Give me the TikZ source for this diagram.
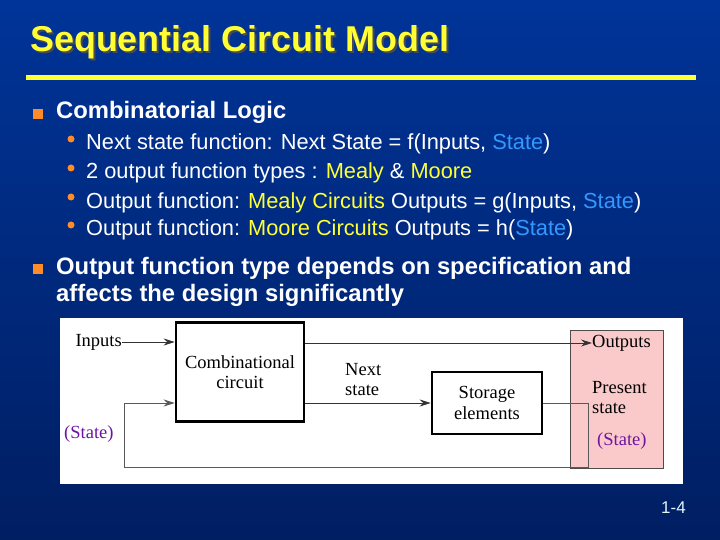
\documentclass[tikz,border=0pt]{standalone}
\usepackage{fontspec}
\setmainfont{Liberation Sans}
\newfontfamily\diagfont{Liberation Serif}
\usetikzlibrary{positioning,arrows.meta}
\definecolor{slidetop}{RGB}{0,52,152}
\definecolor{slidebottom}{RGB}{0,30,98}
\definecolor{titleyellow}{RGB}{255,255,51}
\definecolor{stateblue}{RGB}{51,153,255}
\definecolor{bulletorange}{RGB}{255,140,40}
\definecolor{statepurple}{RGB}{110,20,160}
\definecolor{presentpink}{RGB}{250,202,202}

\begin{document}
\begin{tikzpicture}[x=1pt,y=-1pt,>={Stealth[length=11pt,width=7pt]},
  every node/.style={inner sep=0pt},
  headpoint/.style={anchor=base west,text=white,font=\fontsize{23.8}{27}\selectfont\bfseries},
  point/.style={anchor=base west,text=white,font=\fontsize{21.8}{25}\selectfont},
  square/.style={fill=bulletorange,minimum size=10pt},
  dot/.style={circle,fill=bulletorange,minimum size=7pt},
  circ/.style={font=\diagfont\fontsize{18.5}{20.5}\selectfont},
  block/.style={draw,line width=2.6pt,fill=white,circ,align=center},
  wire/.style={line width=0.8pt,draw=black!80}]
\shade[top color=slidetop,bottom color=slidebottom] (0,0) rectangle (720,540);
\useasboundingbox (0,0) rectangle (720,540);

% title
\node[anchor=base west,font=\fontsize{35.9}{40}\selectfont\bfseries,text=black!70] (titleshadow) at (32,54) {Sequential Circuit Model};
\node[anchor=base west,font=\fontsize{35.9}{40}\selectfont\bfseries,text=titleyellow] (title) at (30,52) {Sequential Circuit Model};
\fill[titleyellow] (26,75) rectangle (696,80);

% bullets
\node[square] (sq1) at (38,114) {};
\node[headpoint] (comb) at (56,119) {Combinatorial Logic};
\node[dot] (d1) at (71,139) {};
\node[point] (p1) at (86,150) {Next state function: Next State = f(Inputs, \textcolor{stateblue}{State})};
\node[dot] (d2) at (71,168) {};
\node[point] (p2) at (86,179) {2 output function types : \textcolor{titleyellow}{Mealy} \& \textcolor{titleyellow}{Moore}};
\node[dot] (d3) at (71,197) {};
\node[point] (p3) at (86,208) {Output function: \textcolor{titleyellow}{Mealy Circuits} Outputs = g(Inputs, \textcolor{stateblue}{State})};
\node[dot] (d4) at (71,225) {};
\node[point] (p4) at (86,236) {Output function: \textcolor{titleyellow}{Moore Circuits} Outputs = h(\textcolor{stateblue}{State})};
\node[square] (sq2) at (38,269) {};
\node[headpoint,align=left] (otype) at (56,301) {Output function type depends on specification and\\affects the design significantly};

% circuit
\fill[white] (60,318) rectangle (683,484);
\draw[fill=presentpink,draw=black!70,line width=0.8pt] (570,330) rectangle (663,468);
\node[block,minimum width=128pt,minimum height=99pt] (cc) at (240,372) {Combinational\\circuit};
\node[block,minimum width=110pt,minimum height=62pt] (se) at (487,403) {Storage\\elements};
\node[circ,anchor=east] (in) at (122,342) {Inputs};
\node[circ,anchor=west] (out) at (592,343) {Outputs};
\node[circ,align=left,anchor=north west] (ns) at (345,363) {Next\\state};
\node[circ,align=left,anchor=north west] (ps) at (592,381) {Present\\state};
\node[circ,text=statepurple,anchor=west] (stl) at (64,434) {(State)};
\node[circ,text=statepurple,anchor=west] (str) at (597,441) {(State)};
\coordinate (fbr) at (588,467);
\coordinate (fbl) at (124,467);
\draw[wire,->] (in) -- (cc.west |- in);
\draw[wire,->] (cc.east |- out) -- (out.west);
\draw[wire,->] (cc.east |- se) -- (se.west);
\draw[wire,draw=black!65,line width=1pt,->] (se.east) -| (fbr) -- (fbl) |- (cc.west |- se);

\node[anchor=base east,font=\fontsize{17}{20}\selectfont,text=cyan!12] (page) at (686,513) {1-4};
\end{tikzpicture}
\end{document}
